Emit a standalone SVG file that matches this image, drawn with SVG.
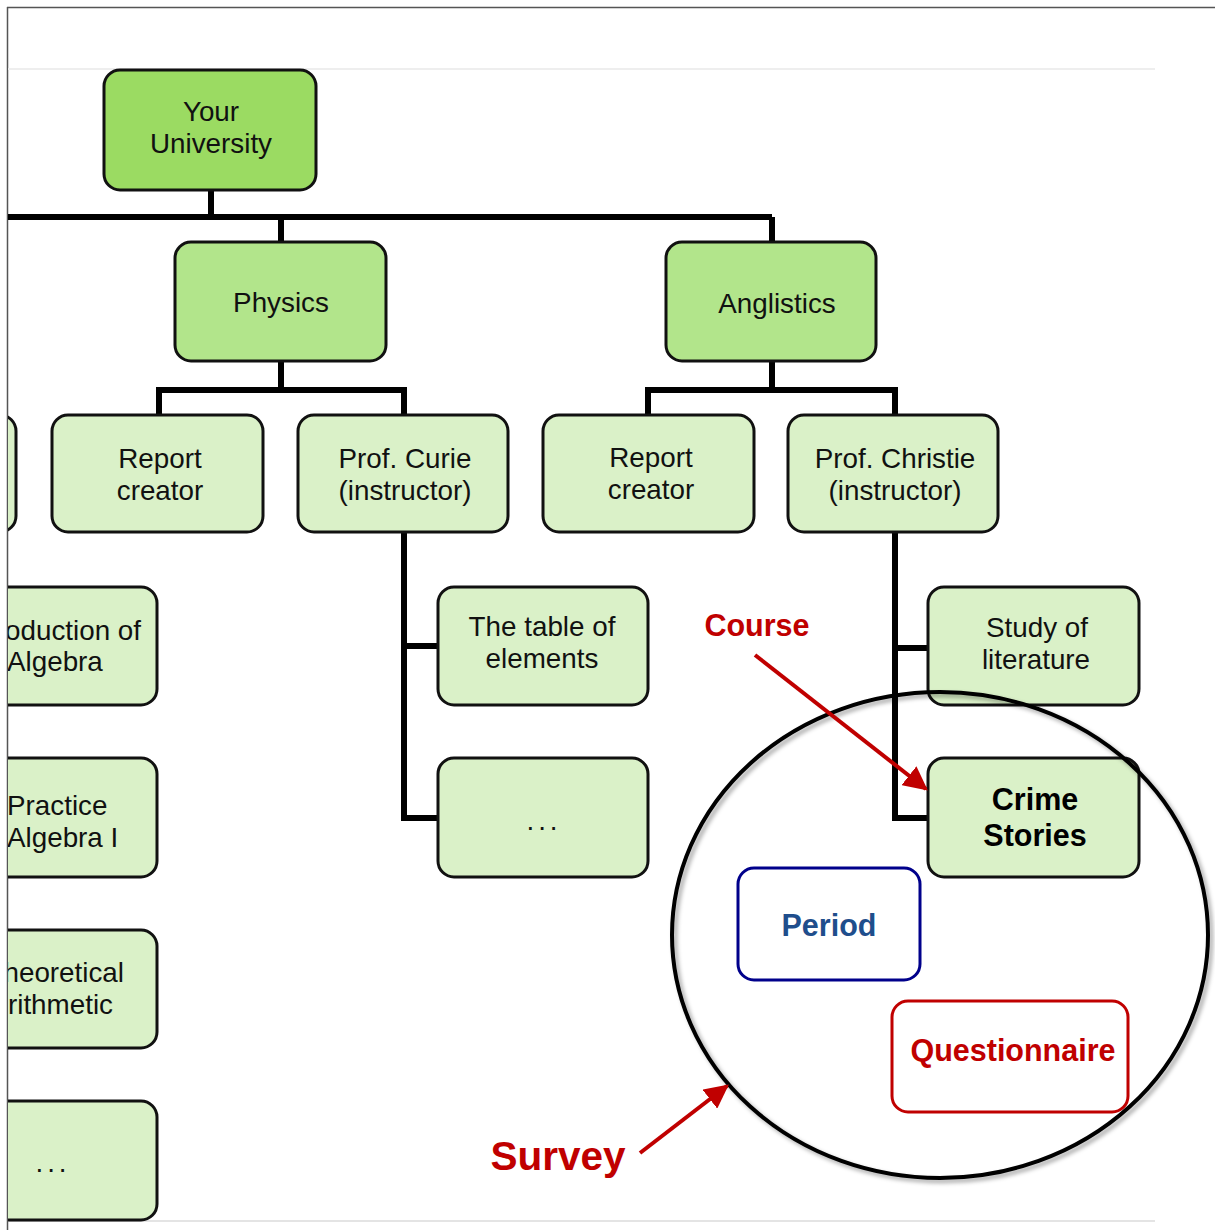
<svg xmlns="http://www.w3.org/2000/svg" width="1215" height="1230" viewBox="0 0 1215 1230">
<style>
.t{font-family:"Liberation Sans",Arial,sans-serif;font-size:27.8px;fill:#111;text-anchor:middle}
.b{font-family:"Liberation Sans",Arial,sans-serif;font-weight:bold;text-anchor:middle}
.n0{fill:#9BDB62;stroke:#111;stroke-width:3}
.n1{fill:#B2E58B;stroke:#111;stroke-width:3}
.n2{fill:#DAF1C8;stroke:#111;stroke-width:3}
.c{fill:none;stroke:#000;stroke-width:6;stroke-linejoin:miter}
.ra{fill:none;stroke:#C00000;stroke-width:4;marker-end:url(#ah)}
</style>
<defs>
<marker id="ah" viewBox="0 0 10 10" refX="9" refY="5" markerWidth="6" markerHeight="6" orient="auto" markerUnits="strokeWidth">
<path d="M0,0 L10,5 L0,10 z" fill="#C00000"/>
</marker>
<clipPath id="page"><rect x="8" y="8" width="1207" height="1222"/></clipPath>
<filter id="sh" x="-10%" y="-10%" width="120%" height="120%">
<feDropShadow dx="3" dy="3" stdDeviation="2" flood-color="#000" flood-opacity="0.35"/>
</filter>
</defs>
<rect x="0" y="0" width="1215" height="1230" fill="#fff"/>
<line x1="7" y1="7.5" x2="1215" y2="7.5" stroke="#555" stroke-width="1.5"/>
<line x1="7.5" y1="7" x2="7.5" y2="1230" stroke="#555" stroke-width="1.5"/>
<line x1="8" y1="69" x2="1155" y2="69" stroke="#eee" stroke-width="2"/>
<line x1="8" y1="1221" x2="1155" y2="1221" stroke="#e4e4e4" stroke-width="2"/>
<g clip-path="url(#page)">
<g id="connectors">
<path class="c" d="M211,190 V217 M8,217 H772 M281,217 V242 M772,217 V242"/>
<path class="c" d="M281,361 V390 M159,415 V390 H404 V415"/>
<path class="c" d="M772,361 V390 M648,415 V390 H895 V415"/>
<path class="c" d="M404,532 V818 H438 M404,646 H438"/>
<path class="c" d="M895,532 V818 H928 M895,648 H928"/>
</g>
<g id="your-university"><rect class="n0" x="104" y="70" width="212" height="120" rx="16"/><text class="t" x="211" y="121">Your</text><text class="t" x="211" y="153">University</text></g>
<g id="physics"><rect class="n1" x="175" y="242" width="211" height="119" rx="16"/><text class="t" x="281" y="312">Physics</text></g>
<g id="anglistics"><rect class="n1" x="666" y="242" width="210" height="119" rx="16"/><text class="t" x="777" y="313">Anglistics</text></g>
<g id="left-partial"><rect class="n2" x="-195" y="415" width="211" height="117" rx="16"/></g>
<g id="report-creator-1"><rect class="n2" x="52" y="415" width="211" height="117" rx="16"/><text class="t" x="160" y="468">Report</text><text class="t" x="160" y="500">creator</text></g>
<g id="prof-curie"><rect class="n2" x="298" y="415" width="210" height="117" rx="16"/><text class="t" x="405" y="468">Prof. Curie</text><text class="t" x="405" y="500">(instructor)</text></g>
<g id="report-creator-2"><rect class="n2" x="543" y="415" width="211" height="117" rx="16"/><text class="t" x="651" y="467">Report</text><text class="t" x="651" y="499">creator</text></g>
<g id="prof-christie"><rect class="n2" x="788" y="415" width="210" height="117" rx="16"/><text class="t" x="895" y="468">Prof. Christie</text><text class="t" x="895" y="500">(instructor)</text></g>
<g id="intro-algebra"><rect class="n2" x="-54" y="587" width="211" height="118" rx="16"/><text class="t" x="141" y="640" style="text-anchor:end">oduction of</text><text class="t" x="7" y="671" style="text-anchor:start">Algebra</text></g>
<g id="practice-algebra"><rect class="n2" x="-54" y="758" width="211" height="119" rx="16"/><text class="t" x="7" y="815" style="text-anchor:start">Practice</text><text class="t" x="7" y="847" style="text-anchor:start">Algebra I</text></g>
<g id="theoretical-arithmetic"><rect class="n2" x="-54" y="930" width="211" height="118" rx="16"/><text class="t" x="124" y="982" style="text-anchor:end">heoretical</text><text class="t" x="113" y="1014" style="text-anchor:end">rithmetic</text></g>
<g id="left-more"><rect class="n2" x="-54" y="1101" width="211" height="119" rx="16"/><text class="t" x="53" y="1172" letter-spacing="4" font-size="24">...</text></g>
<g id="table-of-elements"><rect class="n2" x="438" y="587" width="210" height="118" rx="16"/><text class="t" x="542" y="636">The table of</text><text class="t" x="542" y="668">elements</text></g>
<g id="curie-more"><rect class="n2" x="438" y="758" width="210" height="119" rx="16"/><text class="t" x="544" y="830" letter-spacing="4" font-size="24">...</text></g>
<g id="study-of-literature"><rect class="n2" x="928" y="587" width="211" height="118" rx="16"/><text class="t" x="1037" y="637">Study of</text><text class="t" x="1036" y="669">literature</text></g>
<g id="crime-stories"><rect class="n2" x="928" y="758" width="211" height="119" rx="16"/><text class="b" x="1035" y="810" font-size="30.5" fill="#000">Crime</text><text class="b" x="1035" y="846" font-size="30.5" fill="#000">Stories</text></g>
<g id="survey-circle"><ellipse cx="940" cy="935" rx="268" ry="243" fill="none" stroke="#000" stroke-width="4" filter="url(#sh)"/></g>
<g id="period"><rect x="738" y="868" width="182" height="112" rx="16" fill="none" stroke="#00008B" stroke-width="3"/><text class="b" x="829" y="936" font-size="30.5" fill="#1F4E8C">Period</text></g>
<g id="questionnaire"><rect x="892" y="1001" width="236" height="111" rx="16" fill="none" stroke="#C00000" stroke-width="3"/><text class="b" x="1013" y="1061" font-size="30.5" fill="#C00000">Questionnaire</text></g>
<g id="annotations">
<text class="b" x="757" y="636" font-size="30.5" fill="#C00000">Course</text>
<line class="ra" x1="755" y1="655" x2="926" y2="789"/>
<text class="b" x="558" y="1170" font-size="40.5" fill="#C00000">Survey</text>
<line class="ra" x1="640" y1="1153" x2="727" y2="1086"/>
</g>
</g>
</svg>
